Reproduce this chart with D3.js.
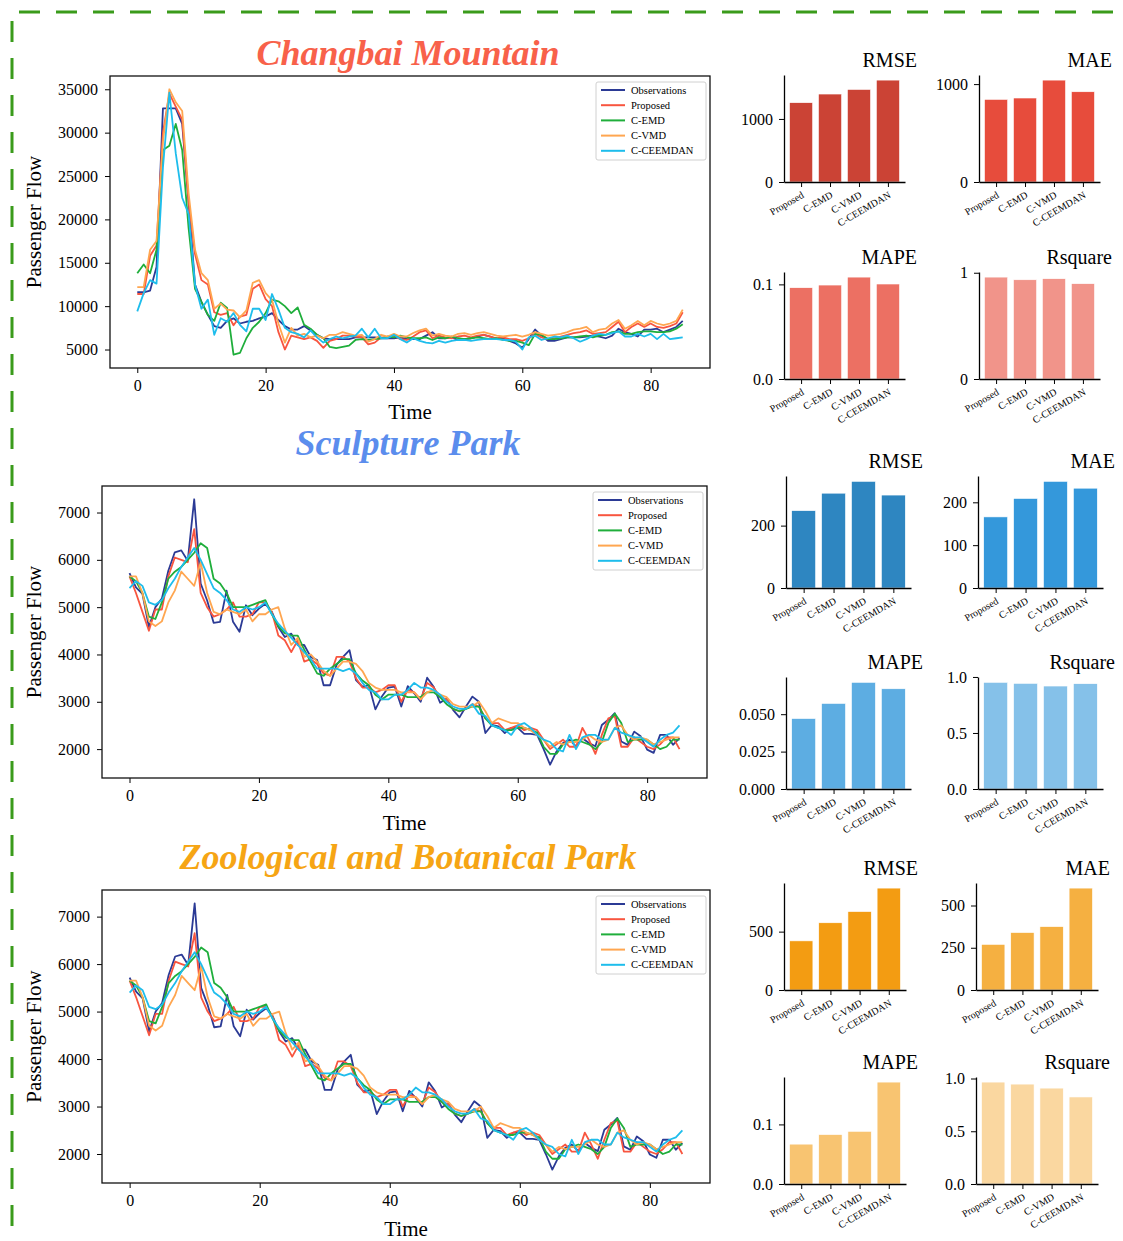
<!DOCTYPE html>
<html>
<head>
<meta charset="utf-8">
<script src="https://cdn.jsdelivr.net/npm/d3@7"></script>
<style>
  body { margin: 0; background: #fff; }
  svg { font-family: "Liberation Serif", "Times New Roman", serif; }
</style>
</head>
<body>
<svg id="chart" width="1123" height="1241"></svg>
<script>
// ---- data ----
const seriesNames = ["Observations", "Proposed", "C-EMD", "C-VMD", "C-CEEMDAN"];
const methods = ["Proposed", "C-EMD", "C-VMD", "C-CEEMDAN"];
const metricNames = ["RMSE", "MAE", "MAPE", "Rsquare"];

const changbaiObs = [11600,11600,11800,14500,32800,32800,32800,31000,22000,12500,
  10500,9000,7700,7500,8300,8600,8000,8200,8300,8600,
  8800,9200,8400,7700,7300,7300,7700,7200,6700,6300,
  6200,6200,6200,6200,6400,6400,6400,6400,6300,6300,
  6300,6400,6200,6200,6200,6600,7000,6300,6300,6400,
  6100,6200,6300,6500,6700,6500,6200,6300,6000,5700,
  5200,6200,7300,6600,6000,6000,6200,6400,6400,6400,
  6500,6600,6500,6300,6600,7400,7000,6800,6500,7300,
  7300,7400,7000,7300,7600,8300];
const changbaiProposed = [11400,11400,15800,17000,30000,34500,33000,31500,22000,16000,
  13000,12500,9300,9000,9200,7800,8800,9000,12000,12500,
  10800,10000,7000,5000,6600,6400,6200,6400,6000,5200,
  6000,6200,6600,6600,6500,6400,5600,5800,6400,6400,
  6600,6200,6100,6500,7000,7200,6300,6600,6400,6300,
  6500,6600,6400,6600,6700,6500,6300,6400,6200,6200,
  6000,6300,6800,6400,6200,6300,6500,6700,6900,7000,
  7200,6800,6900,7000,7600,8200,7000,7600,8000,7600,
  8000,7600,7500,7700,8000,9300];
const changbaiEMD = [13800,14800,13800,16500,28000,28500,31000,28000,19000,12000,
  10500,9000,8300,10400,9800,4400,4600,6300,7500,8200,
  9200,10750,10560,10000,9200,9850,7850,7400,6700,6300,
  5300,5150,5300,5450,6100,6200,6100,6200,6300,6500,
  6400,6600,6400,6300,6300,6400,6100,6400,6300,6500,
  6300,6200,6300,6400,6300,6200,6300,6100,6000,6000,
  5800,5500,6800,6700,6200,6200,6300,6400,6400,6500,
  6600,6400,6600,6700,7000,7100,6800,6800,7000,7100,
  7100,7000,7000,7100,7400,7900];
const changbaiVMD = [12200,12200,16500,17500,29000,35000,33500,32500,23000,16500,
  13800,13000,9700,10300,9600,9500,8700,9500,12700,13000,
  11500,10700,8000,5800,7500,6600,6800,6400,6600,6300,
  6700,6700,7000,6800,6600,6700,5900,6200,6700,6500,
  6800,6500,6500,6900,7200,7400,6600,6800,6600,6500,
  6800,6900,6700,6900,7000,6800,6600,6500,6600,6700,
  6500,6700,7000,6800,6600,6700,6800,7000,7300,7400,
  7600,7000,7300,7400,8000,8400,7400,7800,8300,7800,
  8300,8000,7800,8000,8300,9600];
const changbaiCEEMDAN = [9400,11500,13000,12600,26000,34600,27600,22500,20600,12500,
  9700,10750,6700,8600,8200,9200,7850,7100,9700,9700,
  8400,11400,9600,7500,7000,6800,6400,7200,6400,5800,
  6200,6500,6300,6500,6600,7400,6400,7400,6300,6300,
  6700,6200,5800,6300,6000,5800,5700,6000,5800,6000,
  6100,6100,6000,6100,6200,6200,6200,6100,6100,5900,
  5000,6400,6600,6100,6300,6500,6400,6600,6300,5900,
  6200,6600,6800,6700,6900,7100,6500,6500,6800,6500,
  6800,6200,6800,6200,6300,6400];

const sculptureObs = [5717,5420,5280,4580,5000,5180,5770,6160,6200,5980,
  7280,5500,5140,4670,4690,5350,4690,4480,5040,4830,
  4970,5070,4900,4580,4370,4440,4200,4200,3950,3880,
  3350,3350,3780,3950,4090,3460,3320,3350,2840,3110,
  3300,3320,2900,3330,3180,3000,3510,3320,2980,3070,
  2830,2670,2900,3110,3000,2340,2510,2480,2340,2450,
  2450,2320,2320,2300,2000,1670,1950,2130,2200,2060,
  2230,2130,2060,2510,2620,2760,2160,2090,2370,2270,
  1990,1920,2300,2300,2090,2230];
const sculptureProposed = [5650,5300,4900,4500,4950,4950,5650,6050,6000,5950,
  6650,5300,5000,4800,4850,4950,5100,4800,4800,4850,
  5100,5100,4900,4400,4300,4050,4300,3850,3900,3800,
  3600,3550,3950,3950,3850,3500,3300,3300,3200,3250,
  3350,3350,3000,3250,3200,3050,3400,3300,3100,3050,
  2850,2800,2850,2950,2900,2650,2550,2550,2400,2450,
  2500,2400,2450,2400,2200,2000,2100,2200,2050,2050,
  2450,2200,1900,2300,2650,2700,2050,2050,2250,2150,
  2050,2000,2100,2250,2250,2000];
const sculptureEMD = [5650,5550,5300,4800,4750,5100,5600,5750,5850,6000,
  6150,6350,6250,5600,5500,5300,5000,5000,5000,5050,
  5100,5150,4850,4600,4450,4400,4400,4100,3850,3600,
  3550,3700,3800,3900,3900,3600,3450,3350,3150,3050,
  3150,3150,3150,3100,3100,3100,3200,3200,3100,2950,
  2850,2800,2850,2900,2900,2650,2500,2450,2400,2400,
  2450,2450,2400,2350,2050,1900,1900,2100,2150,2200,
  2150,2100,2000,2150,2550,2750,2550,2150,2200,2200,
  2200,2100,2000,2050,2200,2200];
const sculptureVMD = [5650,5650,5300,4700,4600,4700,5100,5350,5750,5600,
  5450,5950,5300,4900,4850,4950,4900,4850,4950,4700,
  4850,4850,4950,5000,4550,4200,4350,3950,4000,3850,
  3650,3550,3700,3850,3850,3800,3650,3400,3300,3250,
  3250,3250,3200,3200,3200,3050,3200,3250,3150,3100,
  2950,2900,2900,2900,3000,2800,2550,2650,2600,2550,
  2550,2450,2400,2300,2200,2050,2150,2100,2150,2150,
  2200,2300,2200,2150,2200,2450,2500,2300,2200,2250,
  2200,2100,2150,2200,2250,2250];
const sculptureCEEMDAN = [5400,5550,5450,5100,5050,5150,5400,5600,5850,6050,
  6250,6000,5700,5400,5300,5150,4950,4900,5000,4950,
  5000,5100,4850,4650,4500,4350,4200,4050,3900,3700,
  3700,3700,3700,3650,3700,3600,3400,3250,3200,3050,
  3050,3150,3150,3250,3400,3300,3300,3250,3150,3000,
  2900,2850,2850,2950,2750,2700,2500,2450,2400,2300,
  2500,2550,2450,2300,2200,2150,2000,1950,2300,2000,
  2250,2300,2300,2200,2200,2450,2350,2300,2250,2250,
  2150,2050,2200,2300,2350,2500];

// the zoological panel shows the same curves as the sculpture park panel
const zooObs = sculptureObs;
const zooProposed = sculptureProposed;
const zooEMD = sculptureEMD;
const zooVMD = sculptureVMD;
const zooCEEMDAN = sculptureCEEMDAN;

// metrics per method: Proposed, C-EMD, C-VMD, C-CEEMDAN
const changbaiRMSE = [1258, 1395, 1468, 1616];
const changbaiMAE = [844, 858, 1041, 922];
const changbaiMAPE = [0.0965, 0.0993, 0.1077, 0.1004];
const changbaiR2 = [0.959, 0.934, 0.944, 0.897];
const sculptureRMSE = [248, 304, 342, 298];
const sculptureMAE = [166, 209, 249, 233];
const sculptureMAPE = [0.0471, 0.0572, 0.0713, 0.067];
const sculptureR2 = [0.952, 0.943, 0.919, 0.940];
const zooRMSE = [421, 576, 672, 873];
const zooMAE = [270, 340, 375, 603];
const zooMAPE = [0.0669, 0.0829, 0.0884, 0.171];
const zooR2 = [0.966, 0.947, 0.909, 0.825];

// tick values
const timeTicks = [0, 20, 40, 60, 80];
const changbaiFlowTicks = [5000, 10000, 15000, 20000, 25000, 30000, 35000];
const parkFlowTicks = [2000, 3000, 4000, 5000, 6000, 7000];
const changbaiMetricTicks = [[0, 1000], [0, 1000], [0, 0.1], [0, 1]];
const sculptureMetricTicks = [[0, 200], [0, 100, 200], [0, 0.025, 0.05], [0, 0.5, 1]];
const zooMetricTicks = [[0, 500], [0, 250, 500], [0, 0.1], [0, 0.5, 1]];

// ---- styles ----
const lineColors = ["#2b3a95", "#f8553f", "#1fae3b", "#ffa650", "#1ebdec"];
const fontFamily = "'Liberation Serif', 'Times New Roman', serif";

const svg = d3.select("#chart");

// dashed frame
svg.append("path")
  .attr("d", "M12,1300 L12,12 L1200,12")
  .attr("fill", "none")
  .attr("stroke", "#3a9b1b")
  .attr("stroke-width", 3)
  .attr("stroke-dasharray", "21,16");

const panels = [
  {
    title: "Changbai Mountain", titleColor: "#f8614a", titleY: 65,
    series: [changbaiObs, changbaiProposed, changbaiEMD, changbaiVMD, changbaiCEEMDAN],
    flowTicks: changbaiFlowTicks,
    plot: { x0: 110, x1: 710, y0: 76, y1: 368 }, timeY: 419,
    metrics: [changbaiRMSE, changbaiMAE, changbaiMAPE, changbaiR2],
    metricTicks: changbaiMetricTicks, metricFormats: ["d", "d", ".1f", "d"],
    bars: { cols: [784, 979], width: 121, rows: [[75, 182], [272, 379]] }
  },
  {
    title: "Sculpture Park", titleColor: "#5b8ded", titleY: 455,
    series: [sculptureObs, sculptureProposed, sculptureEMD, sculptureVMD, sculptureCEEMDAN],
    flowTicks: parkFlowTicks,
    plot: { x0: 102, x1: 707, y0: 486, y1: 778 }, timeY: 830,
    metrics: [sculptureRMSE, sculptureMAE, sculptureMAPE, sculptureR2],
    metricTicks: sculptureMetricTicks, metricFormats: ["d", "d", ".3f", ".1f"],
    bars: { cols: [786, 978], width: 125, rows: [[476, 588], [677, 789]] }
  },
  {
    title: "Zoological and Botanical Park", titleColor: "#f6a514", titleY: 869,
    series: [zooObs, zooProposed, zooEMD, zooVMD, zooCEEMDAN],
    flowTicks: parkFlowTicks,
    plot: { x0: 102, x1: 710, y0: 890, y1: 1183 }, timeY: 1236,
    metrics: [zooRMSE, zooMAE, zooMAPE, zooR2],
    metricTicks: zooMetricTicks, metricFormats: ["d", "d", ".1f", ".1f"],
    bars: { cols: [784, 976], width: 122, rows: [[883, 990], [1077, 1184]] }
  }
];

const barPalettes = [
  ["#cb4335", "#e74c3c", "#ec7063", "#f1948a"],
  ["#2e86c1", "#3498db", "#5dade2", "#85c1e9"],
  ["#f39c12", "#f5b041", "#f8c471", "#fad7a0"]
];

function styleAxis(g, size) {
  g.selectAll("text")
    .attr("fill", "#000")
    .style("font-family", fontFamily)
    .style("font-size", size + "px");
  g.selectAll("line").attr("stroke", "#000").attr("stroke-width", 1);
}

function drawLinePanel(p) {
  const g = svg.append("g");
  const n = p.series[0].length;
  const all = p.series.flat();
  const lo = d3.min(all), hi = d3.max(all);
  const padY = (hi - lo) * 0.05, padX = (n - 1) * 0.05;

  const x = d3.scaleLinear().domain([-padX, n - 1 + padX]).range([p.plot.x0, p.plot.x1]);
  const y = d3.scaleLinear().domain([lo - padY, hi + padY]).range([p.plot.y1, p.plot.y0]);

  // title
  g.append("text")
    .attr("x", 408).attr("y", p.titleY)
    .attr("text-anchor", "middle")
    .attr("fill", p.titleColor)
    .style("font-family", fontFamily)
    .style("font-size", "36px")
    .style("font-weight", "bold")
    .style("font-style", "italic")
    .text(p.title);

  const xAxis = g.append("g")
    .attr("transform", `translate(0,${p.plot.y1})`)
    .call(d3.axisBottom(x).tickValues(timeTicks).tickFormat(d3.format("d")).tickSize(5).tickPadding(7));
  xAxis.select(".domain").remove();
  styleAxis(xAxis, 16);

  const yAxis = g.append("g")
    .attr("transform", `translate(${p.plot.x0},0)`)
    .call(d3.axisLeft(y).tickValues(p.flowTicks).tickFormat(d3.format("d")).tickSize(5).tickPadding(7));
  yAxis.select(".domain").remove();
  styleAxis(yAxis, 16);

  // series
  const line = d3.line().x((d, i) => x(i)).y(d => y(d));
  p.series.forEach((s, k) => {
    g.append("path")
      .datum(s)
      .attr("d", line)
      .attr("fill", "none")
      .attr("stroke", lineColors[k])
      .attr("stroke-width", 1.8)
      .attr("stroke-linejoin", "round");
  });

  // frame
  g.append("rect")
    .attr("x", p.plot.x0).attr("y", p.plot.y0)
    .attr("width", p.plot.x1 - p.plot.x0).attr("height", p.plot.y1 - p.plot.y0)
    .attr("fill", "none").attr("stroke", "#111").attr("stroke-width", 1.3);

  // axis labels
  g.append("text")
    .attr("x", (p.plot.x0 + p.plot.x1) / 2).attr("y", p.timeY)
    .attr("text-anchor", "middle")
    .style("font-family", fontFamily).style("font-size", "21px")
    .text("Time");
  g.append("text")
    .attr("transform", `translate(41,${(p.plot.y0 + p.plot.y1) / 2}) rotate(-90)`)
    .attr("text-anchor", "middle")
    .style("font-family", fontFamily).style("font-size", "21px")
    .text("Passenger Flow");

  // legend
  const lx = p.plot.x1 - 114, ly = p.plot.y0 + 6;
  const legend = g.append("g").attr("transform", `translate(${lx},${ly})`);
  legend.append("rect")
    .attr("width", 110).attr("height", 78).attr("rx", 2)
    .attr("fill", "#fff").attr("fill-opacity", 0.85)
    .attr("stroke", "#d0d0d0").attr("stroke-width", 1);
  seriesNames.forEach((name, k) => {
    const yy = 8 + k * 15.2;
    legend.append("line")
      .attr("x1", 5).attr("x2", 29).attr("y1", yy).attr("y2", yy)
      .attr("stroke", lineColors[k]).attr("stroke-width", 2);
    legend.append("text")
      .attr("x", 35).attr("y", yy + 3.6)
      .style("font-family", fontFamily).style("font-size", "10.5px")
      .text(name);
  });
}

function drawBar(p, pi, m) {
  const g = svg.append("g");
  const col = m % 2, row = Math.floor(m / 2);
  const x0 = p.bars.cols[col], w = p.bars.width;
  const [top, bottom] = p.bars.rows[row];
  const values = p.metrics[m];

  const x = d3.scaleLinear().domain([-0.59, methods.length - 1 + 0.59]).range([x0, x0 + w]);
  const y = d3.scaleLinear().domain([0, d3.max(values) * 1.05]).range([bottom, top]);

  g.selectAll("rect.bar")
    .data(values)
    .join("rect")
    .attr("class", "bar")
    .attr("x", (d, i) => x(i - 0.4))
    .attr("width", (d, i) => x(i + 0.4) - x(i - 0.4))
    .attr("y", d => y(d))
    .attr("height", d => bottom - y(d))
    .attr("fill", barPalettes[pi][m])
    .attr("stroke", "#fff").attr("stroke-width", 0.6);

  const yAxis = g.append("g")
    .attr("transform", `translate(${x0},0)`)
    .call(d3.axisLeft(y).tickValues(p.metricTicks[m]).tickFormat(d3.format(p.metricFormats[m]))
      .tickSize(5).tickSizeOuter(0).tickPadding(6));
  yAxis.select(".domain").attr("stroke", "#000").attr("stroke-width", 1.3);
  styleAxis(yAxis, 16);

  const xAxis = g.append("g")
    .attr("transform", `translate(0,${bottom})`)
    .call(d3.axisBottom(x).tickValues(d3.range(methods.length)).tickFormat(i => methods[i])
      .tickSize(5).tickSizeOuter(0));
  xAxis.select(".domain").attr("stroke", "#000").attr("stroke-width", 1.3);
  styleAxis(xAxis, 10);
  xAxis.selectAll(".tick text")
    .attr("text-anchor", "end")
    .attr("dy", null)
    .attr("y", 0)
    .attr("transform", "translate(3,15) rotate(-30)");

  g.append("text")
    .attr("x", x0 + w + 12).attr("y", top - 8)
    .attr("text-anchor", "end")
    .style("font-family", fontFamily).style("font-size", "20px")
    .text(metricNames[m]);
}

panels.forEach((p, pi) => {
  drawLinePanel(p);
  metricNames.forEach((name, m) => drawBar(p, pi, m));
});
</script>
</body>
</html>
